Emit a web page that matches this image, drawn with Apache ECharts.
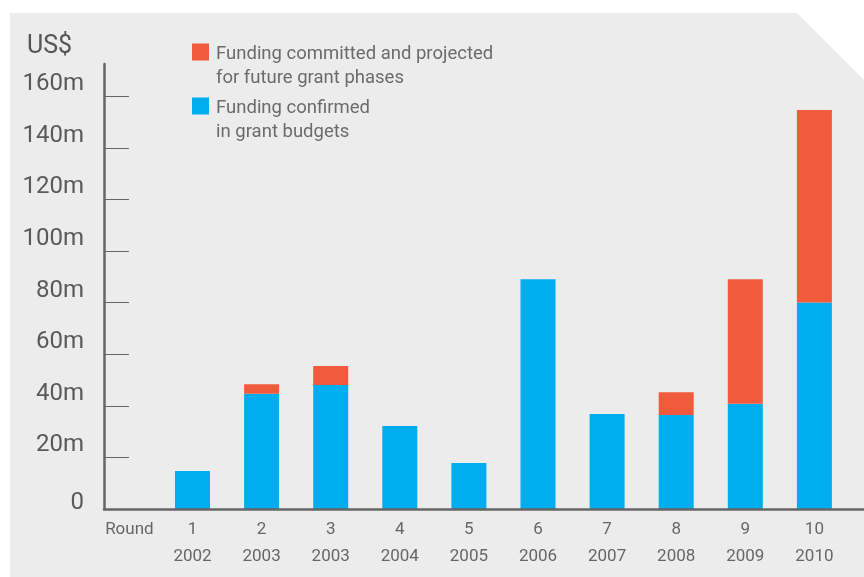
<!DOCTYPE html>
<html>
<head>
<meta charset="utf-8">
<script src="https://cdn.jsdelivr.net/npm/echarts@6/dist/echarts.min.js"></script>
<style>
html,body{margin:0;padding:0;background:#fff;}
#bg{position:absolute;left:10px;top:13px;width:854px;height:564px;background:#ececec;
clip-path:polygon(0 0,787px 0,854px 67px,854px 100%,0 100%);}
#chart{position:absolute;left:0;top:0;width:864px;height:577px;}
</style>
</head>
<body>
<div id="bg"></div>
<div id="chart"></div>
<script>
// ---- data ----
const rounds = ['1','2','3','4','5','6','7','8','9','10'];
const years = ['2002','2003','2003','2004','2005','2006','2007','2008','2009','2010'];
const roundLabel = 'Round';
const confirmed = [14.7, 44.7, 48.1, 32.2, 17.8, 89.1, 36.8, 36.4, 40.8, 80.0];   // US$ m
const projected = [0, 3.7, 7.3, 0, 0, 0, 0, 8.9, 48.3, 74.7];                     // US$ m
const yTicks = [0, 20, 40, 60, 80, 100, 120, 140, 160];
const nameConfirmed = 'Funding confirmed\nin grant budgets';
const nameProjected = 'Funding committed and projected\nfor future grant phases';

// ---- layout ----
const FONT = 'Roboto, "DejaVu Sans", sans-serif';
const Y_MAX = 172.5;
const categories = [roundLabel].concat(rounds);   // first slot holds the "Round" caption

const legendBase = {
  left: 192, padding: 0, orient: 'vertical', icon: 'rect',
  itemWidth: 17, itemHeight: 17, selectedMode: false,
  formatter: function (name) {
    return '{e| }\n' + name.split('\n').map(function (s) { return '{t|' + s + '}'; }).join('\n');
  },
  textStyle: {
    fontFamily: FONT, fontSize: 18.5, color: '#6b6b6b', lineHeight: 24,
    rich: {
      e: {fontFamily: FONT, fontSize: 18.5, lineHeight: 28},
      t: {fontFamily: FONT, fontSize: 18.5, color: '#6b6b6b', lineHeight: 24, padding: [0, 0, 0, 2]}
    }
  }
};

const chart = echarts.init(document.getElementById('chart'), null, {renderer: 'canvas'});
chart.setOption({
  animation: false,
  textStyle: {fontFamily: FONT},
  title: {
    text: 'US$', left: 27, top: 34, padding: 0,
    textStyle: {fontFamily: FONT, fontSize: 25, fontWeight: 'normal', color: '#555', lineHeight: 25}
  },
  legend: [
    Object.assign({}, legendBase, {data: [nameProjected], top: 14}),
    Object.assign({}, legendBase, {data: [nameConfirmed], top: 68})
  ],
  grid: [
    {left: 104, right: 0, top: 64, bottom: 68},          // axes frame
    {left: 88.85, right: 15.05, top: 64, bottom: 68}     // category slots
  ],
  xAxis: [
    {
      gridIndex: 0, type: 'value', min: 0, max: 1, z: 10,
      splitLine: {show: false}, axisTick: {show: false}, axisLabel: {show: false},
      axisLine: {onZero: false, lineStyle: {color: '#666', width: 2.5}}
    },
    {
      gridIndex: 1, type: 'category', data: categories,
      axisLine: {show: false}, axisTick: {show: false},
      axisLabel: {
        interval: 0,
        formatter: function (v, i) {
          if (i === 0) return '{r|' + roundLabel + '}\n ';
          return rounds[i - 1] + '\n' + years[i - 1];
        },
        fontFamily: FONT, fontSize: 17, color: '#666', lineHeight: 27, margin: 7,
        rich: {r: {fontFamily: FONT, fontSize: 17, color: '#666', lineHeight: 27, padding: [0, 0, 0, 12]}}
      }
    }
  ],
  yAxis: [
    {
      gridIndex: 0, type: 'value', min: 0, max: Y_MAX,
      splitLine: {show: false},
      axisLine: {show: true, onZero: false, lineStyle: {color: '#666', width: 2.5}},
      axisTick: {show: true, inside: true, length: 25, customValues: yTicks.slice(1),
        lineStyle: {color: '#666', width: 1}},
      axisLabel: {
        customValues: yTicks,
        formatter: function (v) { return v === 0 ? '{z|0}' : v + 'm'; },
        fontFamily: FONT, fontSize: 24, color: '#5a5a5a', lineHeight: 24,
        verticalAlign: 'bottom', margin: 20,
        rich: {z: {fontFamily: FONT, fontSize: 24, color: '#5a5a5a', lineHeight: 12}}
      }
    },
    {
      gridIndex: 1, type: 'value', min: 0, max: Y_MAX, show: false
    }
  ],
  series: [
    {
      name: nameConfirmed, type: 'bar', stack: 'total', barWidth: 35,
      xAxisIndex: 1, yAxisIndex: 1,
      itemStyle: {color: '#00aeef'},
      data: ['-'].concat(confirmed)
    },
    {
      name: nameProjected, type: 'bar', stack: 'total', barWidth: 35,
      xAxisIndex: 1, yAxisIndex: 1,
      itemStyle: {color: '#f15b3b'},
      data: ['-'].concat(projected.map(v => v === 0 ? '-' : v))
    }
  ]
});
</script>
</body>
</html>
